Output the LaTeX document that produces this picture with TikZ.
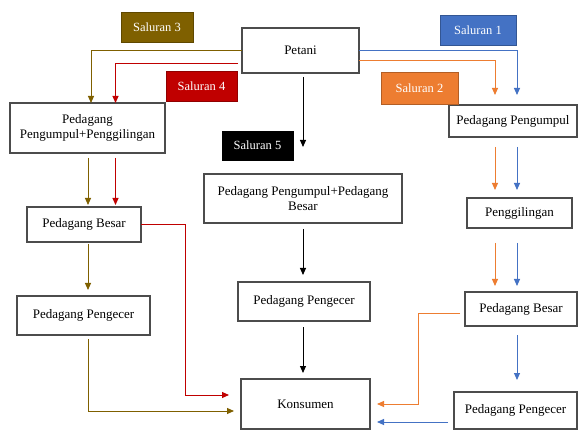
\documentclass[tikz,border=0pt]{standalone}
\usepackage{fontspec}
\setmainfont{Liberation Serif}
\usetikzlibrary{arrows.meta}
\definecolor{cOlive}{HTML}{7F6000}
\definecolor{cRed}{HTML}{C00000}
\definecolor{cBlue}{HTML}{4472C4}
\definecolor{cOrange}{HTML}{ED7D31}
\begin{document}
\begin{tikzpicture}[x=1pt,y=-1pt,
  box/.style={draw=black!70, line width=1.1pt, fill=white, inner sep=0pt, outer sep=0pt,
    align=center, font=\fontsize{13}{15}\selectfont},
  tag/.style={inner sep=0pt, outer sep=0pt, text=white, font=\fontsize{12.5}{14}\selectfont,
    draw=#1!75!black, fill=#1, line width=0.6pt, minimum height=30pt},
  conn/.style={line width=1pt, -{Triangle[width=6pt,length=7pt]}},
]
\useasboundingbox[fill=white] (0,0) rectangle (578,430);

% column coordinates
\coordinate (xolA) at (91,0);
\coordinate (xol) at (88,0);
\coordinate (xre) at (115.5,0);
\coordinate (xr2) at (185,0);
\coordinate (xmid) at (303,0);
\coordinate (xo2) at (418,0);
\coordinate (xor) at (495,0);
\coordinate (xbl) at (517,0);

% boxes
\node[box, minimum width=117pt, minimum height=45pt] (petani) at (300.5,50.5) {Petani};
\node[box, minimum width=155pt, minimum height=50pt] (ppp) at (87.5,128) {Pedagang\\Pengumpul+Penggilingan};
\node[box, minimum width=114pt, minimum height=35pt] (pbl) at (84,224.5) {Pedagang Besar};
\node[box, minimum width=133pt, minimum height=39pt] (ppl) at (83.5,315.5) {Pedagang Pengecer};
\node[box, minimum width=198pt, minimum height=49pt] (ppb) at (303,198.5) {Pedagang Pengumpul+Pedagang\\Besar};
\node[box, minimum width=132pt, minimum height=39pt] (ppm) at (304,301.5) {Pedagang Pengecer};
\node[box, minimum width=129pt, minimum height=50pt] (kons) at (305.5,404) {Konsumen};
\node[box, minimum width=128pt, minimum height=32pt] (ppu) at (513,121) {Pedagang Pengumpul};
\node[box, minimum width=105pt, minimum height=30pt] (peng) at (519.5,213) {Penggilingan};
\node[box, minimum width=112pt, minimum height=34pt] (pbr) at (521,309) {Pedagang Besar};
\node[box, minimum width=123pt, minimum height=37pt] (ppr) at (515.5,410.5) {Pedagang Pengecer};

% channel labels
\node[tag=cOlive, minimum width=72pt] (s3) at (157,27) {Saluran 3};
\node[tag=cRed, minimum width=71pt] (s4) at (201.5,86) {Saluran 4};
\node[tag=cBlue, minimum width=76pt] (s1) at (478,30) {Saluran 1};
\node[tag=cOrange, minimum width=77pt, minimum height=32pt] (s2) at (419.5,88) {Saluran 2};
\node[tag=black, minimum width=71pt, minimum height=29pt] (s5) at (257.5,145.5) {Saluran 5};

% Saluran 3 (olive)
\draw[conn, cOlive] (petani.west) -| (ppp.north -| xolA);
\draw[conn, cOlive, shorten <=5pt, shorten >=2pt] (ppp.south -| xol) -- (pbl.north -| xol);
\draw[conn, cOlive, shorten <=2pt, shorten >=6pt] (pbl.south -| xol) -- (ppl.north -| xol);
\coordinate (ok) at ([yshift=-7pt]kons.west);
\draw[conn, cOlive, shorten <=4pt, shorten >=7pt] (ppl.south -| xol) |- (ok);

% Saluran 4 (red)
\coordinate (rp) at ([yshift=-13.5pt]petani.west);
\draw[conn, cRed, shorten <=4pt] (rp) -| (ppp.north -| xre);
\draw[conn, cRed, shorten <=5pt, shorten >=2pt] (ppp.south -| xre) -- (pbl.north -| xre);
\coordinate (rk) at ([yshift=9pt]kons.west);
\draw[conn, cRed, shorten >=12pt] (pbl.east) -- (pbl.east -| xr2) |- (rk);

% Saluran 5 (black)
\draw[conn, black, shorten <=4pt, shorten >=27pt] (petani.south -| xmid) -- (ppb.north -| xmid);
\draw[conn, black, shorten <=6pt, shorten >=7pt] (ppb.south -| xmid) -- (ppm.north -| xmid);
\draw[conn, black, shorten <=6pt, shorten >=6pt] (ppm.south -| xmid) -- (kons.north -| xmid);

% Saluran 1 (blue)
\draw[conn, cBlue, shorten >=10pt] (petani.east) -| (ppu.north -| xbl);
\draw[conn, cBlue, shorten <=10pt, shorten >=8pt] (ppu.south -| xbl) -- (peng.north -| xbl);
\draw[conn, cBlue, shorten <=15pt, shorten >=6pt] (peng.south -| xbl) -- (pbr.north -| xbl);
\draw[conn, cBlue, shorten <=9pt, shorten >=12pt] (pbr.south -| xbl) -- (ppr.north -| xbl);
\coordinate (bp) at ([yshift=-11.5pt]ppr.west);
\draw[conn, cBlue, shorten <=6pt, shorten >=7pt] (bp) -- (bp -| kons.east);

% Saluran 2 (orange)
\coordinate (op) at ([yshift=-10.5pt]petani.east);
\draw[conn, cOrange, shorten >=10pt] (op) -| (ppu.north -| xor);
\draw[conn, cOrange, shorten <=10pt, shorten >=8pt] (ppu.south -| xor) -- (peng.north -| xor);
\draw[conn, cOrange, shorten <=15pt, shorten >=6pt] (peng.south -| xor) -- (pbr.north -| xor);
\coordinate (ob) at ([yshift=-4pt]pbr.west);
\draw[conn, cOrange, shorten <=5pt, shorten >=7pt] (ob) -- (ob -| xo2) |- (kons.east);
\end{tikzpicture}
\end{document}
